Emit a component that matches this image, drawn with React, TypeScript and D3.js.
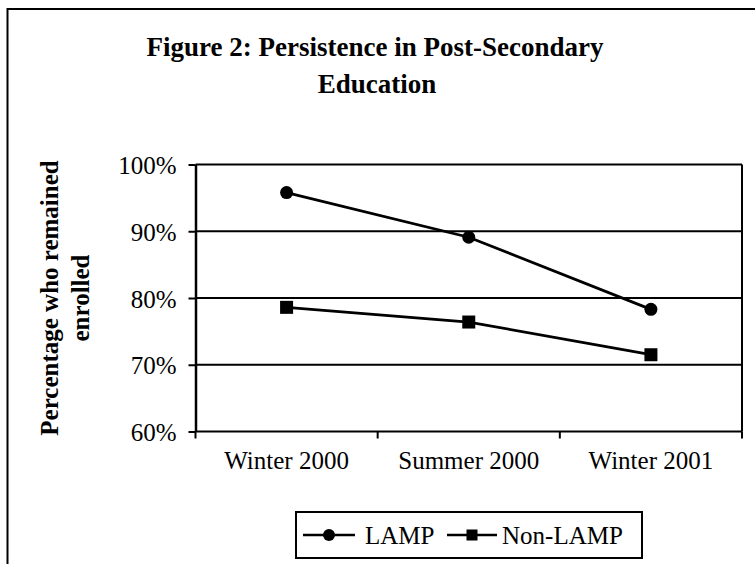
import React, { useEffect, useRef } from 'react';
import * as d3 from 'd3';

const terms = ['Winter 2000', 'Summer 2000', 'Winter 2001'];
const lampValues = [95.8, 89.1, 78.3];
const nonLampValues = [78.6, 76.4, 71.5];
const yTicks = [60, 70, 80, 90, 100];
const seriesNames = ['LAMP', 'Non-LAMP'];

const App: React.FC = () => {
	const svgRef = useRef<SVGSVGElement | null>(null);

	useEffect(() => {
		if (svgRef.current == null) return;

		const width = 755;
		const height = 564;
		const plot = { left: 195.5, right: 742, top: 164.5, bottom: 431.5 };
		const font = '"Liberation Serif", "Times New Roman", serif';

		const xScale = d3.scaleBand<string>()
			.domain(terms)
			.range([plot.left, plot.right]);

		const yScale = d3.scaleLinear()
			.domain([60, 100])
			.range([plot.bottom, plot.top]);

		const svg = d3.select(svgRef.current);
		svg.selectAll('*').remove();
		svg.attr('width', width).attr('height', height);

		svg.append('rect')
			.attr('width', width)
			.attr('height', height)
			.attr('fill', '#fff');

		// outer frame (cut off at right and bottom, like the scan)
		svg.append('path')
			.attr('d', `M7.5,${height} V9 H${width}`)
			.attr('fill', 'none')
			.attr('stroke', '#000')
			.attr('stroke-width', 2);

		// title
		const title = svg.append('text')
			.attr('text-anchor', 'middle')
			.attr('font-family', font)
			.attr('font-weight', 'bold')
			.attr('font-size', 27)
			.attr('fill', '#000');
		title.append('tspan').attr('x', 375).attr('y', 56).text('Figure 2: Persistence in Post-Secondary');
		title.append('tspan').attr('x', 377).attr('y', 93).text('Education');

		// gridlines
		svg.append('g')
			.selectAll('line')
			.data(yTicks)
			.join('line')
			.attr('x1', plot.left)
			.attr('x2', plot.right)
			.attr('y1', d => yScale(d))
			.attr('y2', d => yScale(d))
			.attr('stroke', '#000')
			.attr('stroke-width', 2);

		// right border
		svg.append('line')
			.attr('x1', plot.right).attr('x2', plot.right)
			.attr('y1', plot.top).attr('y2', plot.bottom)
			.attr('stroke', '#000')
			.attr('stroke-width', 2);

		// y axis
		const yAxis = svg.append('g')
			.attr('transform', `translate(${plot.left},0)`)
			.call(d3.axisLeft(yScale).tickValues(yTicks).tickSize(7).tickSizeOuter(0).tickPadding(12).tickFormat(d => `${d}%`));
		yAxis.select('.domain').attr('stroke-width', 2.5);
		yAxis.selectAll('.tick line').attr('stroke-width', 2);
		yAxis.selectAll('text')
			.attr('font-family', font)
			.attr('font-size', 25)
			.attr('fill', '#000')
			.attr('dy', '0.36em');

		// x axis
		const boundaries = [0, 1, 2, 3].map(i => plot.left + i * xScale.bandwidth());
		svg.append('g')
			.selectAll('line')
			.data(boundaries)
			.join('line')
			.attr('x1', d => d)
			.attr('x2', d => d)
			.attr('y1', plot.bottom)
			.attr('y2', plot.bottom + 7)
			.attr('stroke', '#000')
			.attr('stroke-width', 2);

		svg.append('g')
			.selectAll('text')
			.data(terms)
			.join('text')
			.attr('x', d => (xScale(d) || 0) + xScale.bandwidth() / 2)
			.attr('y', 469)
			.attr('text-anchor', 'middle')
			.attr('font-family', font)
			.attr('font-size', 25)
			.attr('fill', '#000')
			.text(d => d);

		// y axis title
		const yTitle = svg.append('text')
			.attr('transform', `translate(0,${(plot.top + plot.bottom) / 2}) rotate(-90)`)
			.attr('text-anchor', 'middle')
			.attr('font-family', font)
			.attr('font-weight', 'bold')
			.attr('font-size', 25)
			.attr('fill', '#000');
		yTitle.append('tspan').attr('x', 0).attr('y', 58).text('Percentage who remained');
		yTitle.append('tspan').attr('x', 0).attr('y', 89).text('enrolled');

		// series
		const cx = (i: number) => (xScale(terms[i]) || 0) + xScale.bandwidth() / 2;

		const line = d3.line<number>()
			.x((_, i) => cx(i))
			.y(d => yScale(d));

		[lampValues, nonLampValues].forEach(values => {
			svg.append('path')
				.datum(values)
				.attr('fill', 'none')
				.attr('stroke', '#000')
				.attr('stroke-width', 2.8)
				.attr('d', line);
		});

		svg.append('g')
			.selectAll('circle')
			.data(lampValues)
			.join('circle')
			.attr('cx', (_, i) => cx(i))
			.attr('cy', d => yScale(d))
			.attr('r', 6.5)
			.attr('fill', '#000');

		svg.append('g')
			.selectAll('rect')
			.data(nonLampValues)
			.join('rect')
			.attr('x', (_, i) => cx(i) - 6.5)
			.attr('y', d => yScale(d) - 6.5)
			.attr('width', 13)
			.attr('height', 13)
			.attr('fill', '#000');

		// legend
		const legend = svg.append('g');
		legend.append('rect')
			.attr('x', 296)
			.attr('y', 512)
			.attr('width', 346)
			.attr('height', 46)
			.attr('fill', '#fff')
			.attr('stroke', '#000')
			.attr('stroke-width', 2);

		const items = [
			{ name: seriesNames[0], x0: 303, x1: 355, textX: 365, marker: 'circle' },
			{ name: seriesNames[1], x0: 447, x1: 497, textX: 502, marker: 'square' },
		];
		const ly = 535;
		items.forEach(it => {
			legend.append('line')
				.attr('x1', it.x0).attr('x2', it.x1)
				.attr('y1', ly).attr('y2', ly)
				.attr('stroke', '#000')
				.attr('stroke-width', 2.5);
			const mx = (it.x0 + it.x1) / 2;
			if (it.marker === 'circle') {
				legend.append('circle').attr('cx', mx).attr('cy', ly).attr('r', 6).attr('fill', '#000');
			} else {
				legend.append('rect').attr('x', mx - 5.5).attr('y', ly - 5.5).attr('width', 11).attr('height', 11).attr('fill', '#000');
			}
			legend.append('text')
				.attr('x', it.textX)
				.attr('y', ly + 9)
				.attr('font-family', font)
				.attr('font-size', 25)
				.attr('fill', '#000')
				.text(it.name);
		});
	}, []);

	return (
		<svg ref={svgRef} style={{ position: 'absolute', left: 0, top: 0 }}></svg>
	);
};

export default App;
